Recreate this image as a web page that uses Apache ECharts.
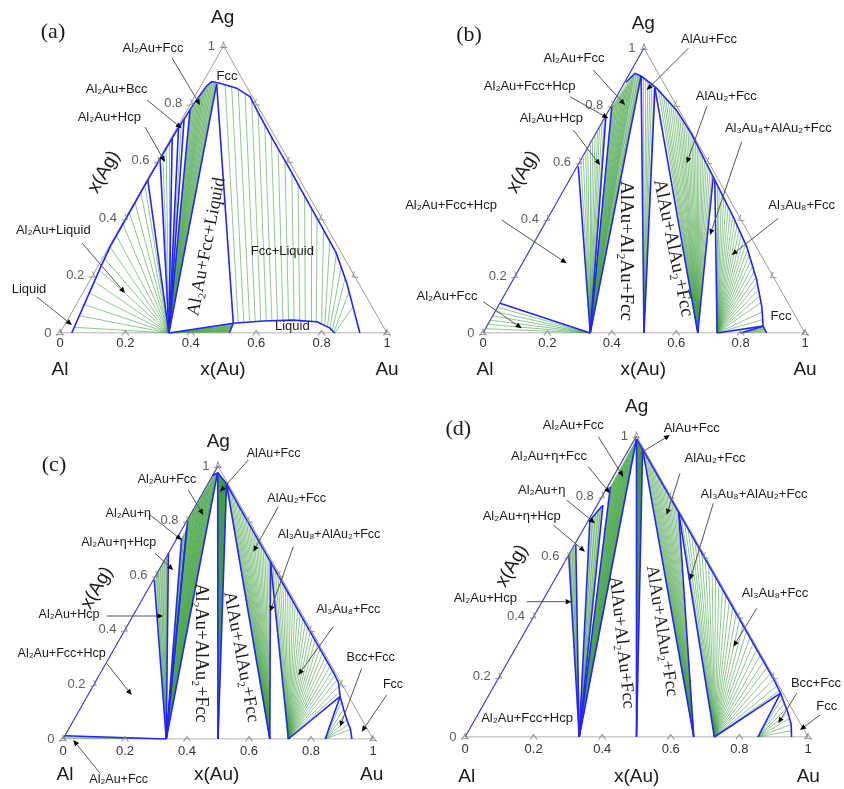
<!DOCTYPE html>
<html><head><meta charset="utf-8">
<script src="https://cdn.jsdelivr.net/npm/echarts@6.0.0/dist/echarts.min.js"></script>
<style>html,body{margin:0;padding:0;background:#fff}#c{width:844px;height:789px}</style>
</head><body><div id="c"></div>
<script>
// ---------- tick values ----------
const tickVals = [0, 0.2, 0.4, 0.6, 0.8, 1];
const tickLabels = ['0', '0.2', '0.4', '0.6', '0.8', '1'];

// ---------- panel (a): compositions [x(Au), x(Ag)] ----------
const aBlue = [
  [[0.036,0],[0.010,0.225],[0.003,0.30],[0.002,0.55],[0.004,0.70],[0.010,0.80],[0.018,0.86],[0.026,0.876],[0.054,0.870],[0.114,0.853],[0.170,0.823],[0.222,0.768],[0.318,0.670],[0.432,0.556],[0.489,0.498],[0.603,0.383],[0.705,0.279],[0.790,0.174],[0.850,0.092],[0.917,0]],
  [[0.333,0],[0.513,0.034],[0.60,0.042],[0.69,0.045],[0.766,0.039],[0.817,0.017],[0.84,0]],
  [[0.045,0.868],[0.513,0.034],[0.518,0]],
  [[0.333,0],[0.002,0.533]],
  [[0.333,0],[0.002,0.608]],
  [[0.333,0],[0.003,0.680]],
  [[0.333,0],[0.005,0.715]],
  [[0.333,0],[0.007,0.745]],
  [[0.333,0],[0.010,0.775]],
  [[0.333,0],[0.045,0.868]]
];
const aFans = [
  [[0.333,0],[[0.033,0.02],[0.029,0.06],[0.022,0.10],[0.018,0.14],[0.014,0.18],[0.010,0.22],[0.006,0.26],[0.003,0.30],[0.002,0.34],[0.002,0.38],[0.002,0.42],[0.002,0.455],[0.002,0.49],[0.002,0.515]]],
  [[0.333,0],[[0.513,0.030],[0.514,0.025],[0.515,0.020],[0.516,0.015],[0.517,0.010],[0.518,0.005]]],
  [[0.333,0],[[0.002,0.625],[0.003,0.643],[0.003,0.662]]],
  [[0.333,0],[[0.006,0.73]]],
  [[0.333,0],[[0.011,0.782],[0.012,0.79],[0.013,0.798],[0.014,0.806],[0.015,0.814],[0.016,0.822],[0.017,0.83],[0.018,0.838],[0.019,0.846],[0.021,0.854],[0.023,0.862],[0.025,0.870],[0.028,0.875],[0.034,0.873],[0.040,0.870]]]
];
const aTies = [
  [0.5275,0.035,0.0725,0.865],[0.543,0.038,0.096,0.858],[0.560,0.040,0.120,0.850],[0.5765,0.041,0.148,0.836],
  [0.593,0.042,0.1785,0.815],[0.610,0.042,0.222,0.768],[0.6265,0.043,0.262,0.728],[0.643,0.044,0.3035,0.685],
  [0.6595,0.045,0.347,0.640],[0.6765,0.045,0.389,0.598],[0.6935,0.045,0.430,0.558],[0.711,0.044,0.469,0.518],
  [0.729,0.042,0.509,0.478],[0.747,0.040,0.547,0.440],[0.765,0.038,0.5855,0.401],[0.7835,0.033,0.626,0.360],
  [0.796,0.028,0.6645,0.321],[0.807,0.022,0.7055,0.279],[0.8165,0.017,0.745,0.23],[0.827,0.010,0.777,0.19],
  [0.836,0.004,0.8115,0.145],[0.84,0,0.85,0.092]
];
const aBandsLight = [[[0.333,0],[0.010,0.775],[0.018,0.86],[0.026,0.876],[0.045,0.868]]];
const aBandsMid = [[[0.333,0],[0.513,0.034],[0.518,0]]];
const aBandsDark = [];

// ---------- panel (b) ----------
const bBlue = [
  [[0.004,0.88],[0.0165,0.911],[0.043,0.900],[0.1095,0.859],[0.210,0.782],[0.298,0.699],[0.441,0.548],[0.573,0.408],[0.6675,0.303],[0.757,0.186],[0.82,0.092],[0.858,0.024],[0.881,0]],
  [[0.333,0],[0.001,0.104]],
  [[0.333,0],[0.004,0.584]],
  [[0.333,0],[0.002,0.759]],
  [[0.333,0],[0.003,0.794]],
  [[0.333,0],[0.040,0.902]],
  [[0.5,0],[0.040,0.902]],
  [[0.5,0],[0.1045,0.859]],
  [[0.667,0],[0.1045,0.859]],
  [[0.667,0],[0.441,0.548]],
  [[0.727,0],[0.452,0.536]],
  [[0.727,0],[0.858,0.024]],
  [[0.80,0],[0.858,0.024]]
];
const bFans = [
  [[0.333,0],[[0.001,0.015],[0.001,0.03],[0.001,0.045],[0.001,0.06],[0.001,0.075],[0.001,0.09]]],
  [[0.333,0],[[0.004,0.60],[0.004,0.615],[0.004,0.63],[0.003,0.645],[0.003,0.66],[0.003,0.675],[0.003,0.69],[0.003,0.705],[0.002,0.72],[0.002,0.735],[0.002,0.75]]],
  [[0.333,0],[[0.004,0.80],[0.005,0.808],[0.006,0.816],[0.007,0.824],[0.008,0.832],[0.009,0.84],[0.010,0.848],[0.011,0.856],[0.012,0.864],[0.013,0.872],[0.014,0.88],[0.015,0.888],[0.016,0.896],[0.017,0.904],[0.022,0.909],[0.030,0.906],[0.036,0.903]]],
  [[0.5,0],[[0.05,0.896],[0.06,0.891],[0.07,0.884],[0.08,0.877],[0.09,0.869],[0.10,0.862]]],
  [[0.667,0],[[0.12,0.851],[0.132,0.842],[0.144,0.833],[0.156,0.823],[0.168,0.814],[0.18,0.805],[0.192,0.796],[0.204,0.787],[0.216,0.776],[0.228,0.765],[0.24,0.754],[0.252,0.742],[0.264,0.731],[0.276,0.720],[0.288,0.708],[0.30,0.697],[0.312,0.684],[0.324,0.672],[0.336,0.659],[0.348,0.646],[0.36,0.634],[0.372,0.621],[0.384,0.608],[0.396,0.595],[0.408,0.583],[0.42,0.570],[0.432,0.557]]],
  [[0.727,0],[[0.465,0.523],[0.48,0.507],[0.495,0.491],[0.51,0.475],[0.525,0.459],[0.54,0.443],[0.555,0.427],[0.57,0.411],[0.585,0.395],[0.60,0.378],[0.615,0.361],[0.63,0.345],[0.645,0.328],[0.66,0.311],[0.675,0.293],[0.69,0.274],[0.705,0.254],[0.72,0.235],[0.735,0.215],[0.75,0.195],[0.765,0.174],[0.78,0.152],[0.795,0.130],[0.81,0.107],[0.83,0.074],[0.845,0.047]]],
  [[0.80,0],[[0.866,0.014],[0.873,0.007],[0.862,0.019]]]
];
const bBandsLight = [[[0.333,0],[0.003,0.794],[0.004,0.88],[0.0165,0.911],[0.040,0.902]], [[0.80,0],[0.858,0.024],[0.881,0]]];
const bBandsMid = [];
const bBandsDark = [];

// ---------- panel (c) ----------
const cBlue = [
  [[0.0,0.965],[0.012,0.975],[0.06,0.935],[0.15,0.844],[0.25,0.744],[0.345,0.649],[0.45,0.544],[0.55,0.444],[0.65,0.344],[0.75,0.244],[0.785,0.207],[0.816,0.156],[0.85,0.11],[0.88,0.071],[0.91,0.035],[0.932,0]],
  [[0.333,0],[0.0,0.012]],
  [[0.333,0],[0.003,0.583]],
  [[0.333,0],[0.0,0.68]],
  [[0.333,0],[0.015,0.735]],
  [[0.333,0],[0.012,0.775]],
  [[0.333,0],[0.002,0.80]],
  [[0.333,0],[0.012,0.972]],
  [[0.5,0],[0.013,0.972]],
  [[0.5,0],[0.06,0.935]],
  [[0.667,0],[0.06,0.935]],
  [[0.667,0],[0.345,0.649]],
  [[0.727,0],[0.345,0.649]],
  [[0.727,0],[0.816,0.156]],
  [[0.846,0],[0.816,0.156]]
];
const cFans = [
  [[0.333,0],[[0.0,0.004],[0.0,0.008]]],
  [[0.333,0],[[0.003,0.598],[0.002,0.612],[0.002,0.626],[0.001,0.640],[0.001,0.654],[0.0,0.668]]],
  [[0.333,0],[[0.014,0.745],[0.013,0.755],[0.013,0.765]]],
  [[0.333,0],[[0.002,0.81],[0.002,0.82],[0.003,0.83],[0.003,0.84],[0.003,0.85],[0.004,0.86],[0.004,0.87],[0.004,0.88],[0.005,0.89],[0.005,0.90],[0.005,0.91],[0.006,0.92],[0.006,0.93],[0.007,0.94],[0.008,0.95],[0.009,0.96],[0.010,0.968]]],
  [[0.5,0],[[0.017,0.970],[0.021,0.967],[0.025,0.963],[0.029,0.960],[0.033,0.957],[0.037,0.953],[0.041,0.950],[0.045,0.946],[0.049,0.943],[0.053,0.940],[0.057,0.937]]],
  [[0.667,0],[[0.07,0.924],[0.082,0.912],[0.094,0.900],[0.106,0.888],[0.118,0.876],[0.13,0.864],[0.142,0.852],[0.154,0.840],[0.166,0.828],[0.178,0.816],[0.19,0.804],[0.202,0.792],[0.214,0.780],[0.226,0.768],[0.238,0.756],[0.25,0.744],[0.262,0.732],[0.274,0.720],[0.286,0.708],[0.298,0.696],[0.31,0.684],[0.322,0.672],[0.334,0.660]]],
  [[0.727,0],[[0.36,0.634],[0.376,0.618],[0.392,0.602],[0.408,0.586],[0.424,0.570],[0.44,0.554],[0.456,0.538],[0.472,0.522],[0.488,0.506],[0.504,0.490],[0.52,0.474],[0.536,0.458],[0.552,0.442],[0.568,0.426],[0.584,0.410],[0.60,0.394],[0.616,0.378],[0.632,0.362],[0.648,0.346],[0.664,0.330],[0.68,0.314],[0.696,0.298],[0.712,0.282],[0.728,0.266],[0.744,0.250],[0.76,0.233],[0.776,0.216],[0.792,0.193],[0.806,0.171]]],
  [[0.846,0],[[0.83,0.137],[0.85,0.11],[0.865,0.09],[0.88,0.071],[0.895,0.053],[0.91,0.035]]]
];
const cBandsLight = [[[0.333,0],[0.003,0.583],[0.0,0.68]], [[0.333,0],[0.015,0.735],[0.012,0.775]]];
const cBandsMid = [[[0.333,0],[0.002,0.80],[0.0,0.965],[0.012,0.975]]];
const cBandsDark = [[[0.5,0],[0.013,0.972],[0.06,0.935]]];

// ---------- panel (d) ----------
const dBlue = [
  [[0.005,0.99],[0.0395,0.9565],[0.10,0.896],[0.25,0.746],[0.40,0.596],[0.60,0.396],[0.80,0.196],[0.847,0.146],[0.875,0.112],[0.902,0.08],[0.93,0.042],[0.952,0]],
  [[0.333,0],[0.0,0.605]],
  [[0.333,0],[0.004,0.638]],
  [[0.333,0],[0.004,0.72]],
  [[0.333,0],[0.017,0.77]],
  [[0.333,0],[0.008,0.832]],
  [[0.333,0],[0.005,0.99]],
  [[0.004,0.72],[0.017,0.77]],
  [[0.5,0],[0.005,0.99]],
  [[0.5,0],[0.0395,0.9565]],
  [[0.667,0],[0.0395,0.9565]],
  [[0.667,0],[0.25,0.746]],
  [[0.727,0],[0.25,0.746]],
  [[0.727,0],[0.847,0.146]],
  [[0.854,0],[0.847,0.146]]
];
const dFans = [
  [[0.333,0],[[0.001,0.612],[0.002,0.62],[0.003,0.628]]],
  [[0.333,0],[[0.007,0.73],[0.010,0.74],[0.013,0.75],[0.015,0.76]]],
  [[0.333,0],[[0.008,0.842],[0.008,0.852],[0.008,0.862],[0.008,0.872],[0.008,0.882],[0.008,0.892],[0.007,0.902],[0.007,0.912],[0.007,0.922],[0.007,0.932],[0.006,0.942],[0.006,0.952],[0.006,0.962],[0.006,0.972],[0.005,0.982]]],
  [[0.5,0],[[0.010,0.986],[0.015,0.981],[0.020,0.976],[0.025,0.971],[0.030,0.966],[0.035,0.961]]],
  [[0.667,0],[[0.05,0.946],[0.06,0.936],[0.07,0.926],[0.08,0.916],[0.09,0.906],[0.10,0.896],[0.11,0.886],[0.12,0.876],[0.13,0.866],[0.14,0.856],[0.15,0.846],[0.16,0.836],[0.17,0.826],[0.18,0.816],[0.19,0.806],[0.20,0.796],[0.21,0.786],[0.22,0.776],[0.23,0.766],[0.24,0.756]]],
  [[0.727,0],[[0.265,0.731],[0.285,0.711],[0.305,0.691],[0.325,0.671],[0.345,0.651],[0.365,0.631],[0.385,0.611],[0.405,0.591],[0.425,0.571],[0.445,0.551],[0.465,0.531],[0.485,0.511],[0.505,0.491],[0.525,0.471],[0.545,0.451],[0.565,0.431],[0.585,0.411],[0.605,0.391],[0.625,0.371],[0.645,0.351],[0.665,0.331],[0.685,0.311],[0.705,0.291],[0.725,0.271],[0.745,0.251],[0.765,0.231],[0.785,0.211],[0.805,0.191],[0.825,0.170],[0.84,0.153]]],
  [[0.854,0],[[0.86,0.136],[0.875,0.112],[0.89,0.094],[0.902,0.08],[0.915,0.062],[0.93,0.042],[0.942,0.021]]]
];
const dBandsLight = [[[0.333,0],[0.0,0.605],[0.004,0.638]], [[0.333,0],[0.004,0.72],[0.017,0.77]]];
const dBandsMid = [[[0.333,0],[0.008,0.832],[0.005,0.99]]];
const dBandsDark = [[[0.5,0],[0.005,0.99],[0.0395,0.9565]]];

// ---------- layout / styling ----------
const SANS = "'Liberation Sans', Arial, Helvetica, sans-serif";
const SERIF = "'Liberation Serif', 'Times New Roman', serif";
const BLUE = '#2424ff', GREEN = '#3fa03f', GRAY = '#9c9c9c';
const BAND_FILL = ['#b4dcb4', '#72bd72', '#2c8a2c'];

const panels = [
  {grid:{left:60, top:46, width:327, height:287}, blue:aBlue, fans:aFans, ties:aTies, bands:[aBandsLight,aBandsMid,aBandsDark], leftBlue:false, margin:4},
  {grid:{left:483, top:48, width:322, height:285}, blue:bBlue, fans:bFans, ties:[], bands:[bBandsLight,bBandsMid,bBandsDark], leftBlue:true, margin:4},
  {grid:{left:63, top:466, width:310, height:273}, blue:cBlue, fans:cFans, ties:[], bands:[cBandsLight,cBandsMid,cBandsDark], leftBlue:true, margin:6},
  {grid:{left:465, top:436, width:343, height:301}, blue:dBlue, fans:dFans, ties:[], bands:[dBandsLight,dBandsMid,dBandsDark], leftBlue:true, margin:6}
];

// composition (xAu, xAg) -> plotting plane
function P(a, g) { return [a + g / 2, g]; }
function fanSegs(fans) {
  const out = [];
  fans.forEach(f => f[1].forEach(e => out.push({coords: [P(f[0][0], f[0][1]), P(e[0], e[1])]})));
  return out;
}
function tieSegs(ties) { return ties.map(t => ({coords: [P(t[0], t[1]), P(t[2], t[3])]})); }
function polySegs(lines) { return lines.map(l => ({coords: l.map(q => P(q[0], q[1]))})); }

const grids = [], xAxes = [], yAxes = [], series = [];
const CHEV = 'path://M0,10 L5,0 L10,10';
panels.forEach((pn, i) => {
  grids.push(Object.assign({containLabel: false}, pn.grid));
  xAxes.push({gridIndex: i, type: 'value', min: 0, max: 1, interval: 0.2,
    axisLine: {show: false}, axisTick: {show: false}, splitLine: {show: false},
    axisLabel: {margin: pn.margin, fontSize: 13, color: '#333', fontFamily: SANS,
      formatter: v => tickLabels[Math.round(v * 5)]}});
  yAxes.push({gridIndex: i, type: 'value', min: 0, max: 1, show: false});
  const base = {coordinateSystem: 'cartesian2d', xAxisIndex: i, yAxisIndex: i, silent: true};
  // filled dense two-phase bands
  pn.bands.forEach((set, tone) => {
    if (!set.length) return;
    series.push(Object.assign({type: 'custom', z: 1, clip: false,
      data: set.map((poly, k) => [0.5, 0.5, k]),
      renderItem: (params, api) => ({type: 'polygon',
        shape: {points: set[params.dataIndex].map(q => api.coord(P(q[0], q[1])))},
        style: {fill: BAND_FILL[tone], opacity: 0.85}})}, base));
  });
  series.push(Object.assign({type: 'lines', polyline: true, z: 2,
    lineStyle: {color: GRAY, width: 1, opacity: 1},
    data: [{coords: [P(0,0), P(1,0), P(0,1), P(0,0)]}]}, base));
  if (pn.leftBlue) series.push(Object.assign({type: 'lines', polyline: true, z: 2,
    lineStyle: {color: '#4646c4', width: 1.1, opacity: 1},
    data: [{coords: [P(0,0), P(0,1)]}]}, base));
  series.push(Object.assign({type: 'lines', z: 3,
    lineStyle: {color: GREEN, width: 0.9, opacity: 0.65},
    data: fanSegs(pn.fans).concat(tieSegs(pn.ties))}, base));
  series.push(Object.assign({type: 'lines', polyline: true, z: 4,
    lineStyle: {color: BLUE, width: 1.6, opacity: 1},
    data: polySegs(pn.blue)}, base));
  const ticks = [];
  tickVals.forEach(v => {
    ticks.push({value: P(v, 0), symbolRotate: 0});
    ticks.push({value: P(0, v), symbolRotate: -120});
    ticks.push({value: P(1 - v, v), symbolRotate: 120});
  });
  series.push(Object.assign({type: 'scatter', z: 5, symbol: CHEV, symbolSize: [7, 5],
    itemStyle: {color: 'rgba(0,0,0,0)', borderColor: '#888', borderWidth: 1},
    data: ticks}, base));
  series.push(Object.assign({type: 'scatter', z: 5, symbolSize: 1,
    itemStyle: {color: 'rgba(0,0,0,0)'},
    label: {show: true, position: 'left', distance: 8, fontSize: 13, color: '#333', fontFamily: SANS,
      formatter: p => tickLabels[p.dataIndex]},
    data: tickVals.map(v => P(0, v))}, base));
});

// ---------- annotation texts (pixel layout) ----------
const texts = [
  // (a)
  ['(a)',53,32,22,SERIF,0],['Ag',222.7,18,19,SANS,0],['Al',60,370,19,SANS,0],['x(Au)',223,370,19,SANS,0],['Au',387,370,19,SANS,0],['x(Ag)',104,172,19,SANS,60],
  ['Al₂Au+Fcc',153,48,13,SANS,0],['Fcc',227,76,13,SANS,0],['Al₂Au+Bcc',116.7,89,13,SANS,0],['Al₂Au+Hcp',109.3,117,13,SANS,0],
  ['Al₂Au+Liquid',53.3,230,13,SANS,0],['Liquid',29,289,13,SANS,0],['Fcc+Liquid',282.3,251.7,13,SANS,0],['Liquid',292.3,326.7,13,SANS,0],
  ['Al₂Au+Fcc+Liquid',206.7,246.7,18,SERIF,79],
  // (b)
  ['(b)',469,35,22,SERIF,0],['Ag',643.3,23.3,19,SANS,0],['Al',485,370,19,SANS,0],['x(Au)',643.3,370,19,SANS,0],['Au',805,370,19,SANS,0],['x(Ag)',523,172,19,SANS,60],
  ['AlAu+Fcc',709,39.3,13,SANS,0],['Al₂Au+Fcc',574,58.3,13,SANS,0],['Al₂Au+Fcc+Hcp',529.7,86.7,13,SANS,0],['AlAu₂+Fcc',726.3,96,13,SANS,0],
  ['Al₂Au+Hcp',551.3,118.3,13,SANS,0],['Al₃Au₈+AlAu₂+Fcc',778.3,128.3,13,SANS,0],['Al₂Au+Fcc+Hcp',451,205,13,SANS,0],['Al₃Au₈+Fcc',801.7,205,13,SANS,0],
  ['Al₂Au+Fcc',447,296.7,13,SANS,0],['Fcc',781,316,13,SANS,0],
  ['AlAu+Al₂Au+Fcc',626,251,19,SERIF,-90],['AlAu+AlAu₂+Fcc',673,248,19,SERIF,-78.4],
  // (c)
  ['(c)',54,465,22,SERIF,0],['Ag',218.3,441.7,19,SANS,0],['Al',65,775,19,SANS,0],['x(Au)',216.7,775,19,SANS,0],['Au',371.7,775,19,SANS,0],['x(Ag)',97,588,19,SANS,60],
  ['AlAu+Fcc',273.7,453.3,12.5,SANS,0],['Al₂Au+Fcc',167,479.3,12.5,SANS,0],['AlAu₂+Fcc',296.7,498.3,12.5,SANS,0],['Al₂Au+η',128.3,513.3,12.5,SANS,0],
  ['Al₃Au₈+AlAu₂+Fcc',329,535,12.5,SANS,0],['Al₂Au+η+Hcp',118.7,542.7,12.5,SANS,0],['Al₂Au+Hcp',69,615,12.5,SANS,0],['Al₃Au₈+Fcc',348.3,610,12.5,SANS,0],
  ['Al₂Au+Fcc+Hcp',61.7,653.3,12.5,SANS,0],['Bcc+Fcc',370.7,657.3,12.5,SANS,0],['Fcc',393,685,12.5,SANS,0],['Al₂Au+Fcc',118.7,780,12.5,SANS,0],
  ['Al₂Au+AlAu₂+Fcc',201,653,18,SERIF,-90],['AlAu+AlAu₂+Fcc',241,657,18,SERIF,-79.4],
  // (d)
  ['(d)',458.3,429.3,22,SERIF,0],['Ag',636.7,406.7,19,SANS,0],['Al',466.7,776.7,19,SANS,0],['x(Au)',636.7,776.7,19,SANS,0],['Au',808.3,776.7,19,SANS,0],['x(Ag)',512,566,19,SANS,60],
  ['Al₂Au+Fcc',573.3,425,13,SANS,0],['AlAu+Fcc',691.7,428.3,13,SANS,0],['Al₂Au+η+Fcc',549,456.7,13,SANS,0],['AlAu₂+Fcc',715,458.3,13,SANS,0],
  ['Al₂Au+η',541.7,490,13,SANS,0],['Al₃Au₈+AlAu₂+Fcc',754,494,13,SANS,0],['Al₂Au+η+Hcp',521.7,516,13,SANS,0],['Al₃Au₈+Fcc',775,593.3,13,SANS,0],
  ['Al₂Au+Hcp',485.3,598.3,13,SANS,0],['Bcc+Fcc',816,683.3,13,SANS,0],['Fcc',826.7,706.7,13,SANS,0],['Al₂Au+Fcc+Hcp',527,718.3,13,SANS,0],
  ['AlAu+Al₂Au+Fcc',621.7,642.5,18,SERIF,-84],['AlAu+AlAu₂+Fcc',661.7,631,18,SERIF,-81]
];
// pointer arrows (pixel layout): from -> tip
const arrows = [
  [172,58,200,105],[147,100,181.7,128.3],[145,127,165,162],[82,243,125,293],[37,297,72,325],
  [688.3,48.3,646.7,90],[593.3,70,625,105],[570,96.7,608.3,118.3],[706.7,106.7,686.7,163.3],[573.3,130,600,165],
  [741.7,141.7,710,235],[501.7,220,566.7,263.3],[778.3,218.3,731.7,255],[483.3,301.7,521.7,328.3],
  [248.3,460,220,491.7],[188.3,490,203.3,515],[278.3,506.7,253.3,551.7],[150,515,181.7,540],[293.3,546.7,270,611.7],
  [155,553.3,173.3,570],[106.7,616,163.3,616],[333.3,626.7,298.3,675],[106.7,663.3,131.7,695],[361.7,668.3,340,726.7],
  [386.7,695,361.7,731.7],[100,773.3,73.3,740],
  [598.3,436.7,623.3,476.7],[640,453.3,670,435],[588.3,466.7,610,493.3],[680,473.3,666.7,515],[566.7,500,595,523.3],
  [713.3,503.3,690,580],[553.3,525,585,551.7],[756.7,608.3,733.3,646.7],[526.7,601.7,571.7,601.7],[796.7,693.3,778.3,723.3],
  [820,715,800,730]
];

const graphic = [];
texts.forEach(t => {
  graphic.push({type: 'text', x: t[1], y: t[2], rotation: t[5] * Math.PI / 180, silent: true, z: 100,
    style: {text: t[0], fontSize: t[3], fontFamily: t[4], fill: '#1a1a1a',
      textAlign: 'center', textVerticalAlign: 'middle', align: 'center', verticalAlign: 'middle'}});
});
arrows.forEach(a => {
  const dx = a[2] - a[0], dy = a[3] - a[1], L = Math.hypot(dx, dy);
  const ux = dx / L, uy = dy / L, hl = 6, hw = 2.6;
  const bx = a[2] - ux * hl, by = a[3] - uy * hl;
  graphic.push({type: 'line', silent: true, z: 99, shape: {x1: a[0], y1: a[1], x2: bx, y2: by},
    style: {stroke: '#555', lineWidth: 1}});
  graphic.push({type: 'polygon', silent: true, z: 99,
    shape: {points: [[a[2], a[3]], [bx - uy * hw, by + ux * hw], [bx + uy * hw, by - ux * hw]]},
    style: {fill: '#000'}});
});

const chart = echarts.init(document.getElementById('c'), null, {renderer: 'canvas'});
chart.setOption({
  backgroundColor: '#fff',
  animation: false,
  grid: grids, xAxis: xAxes, yAxis: yAxes, series: series, graphic: graphic
});
</script></body></html>
